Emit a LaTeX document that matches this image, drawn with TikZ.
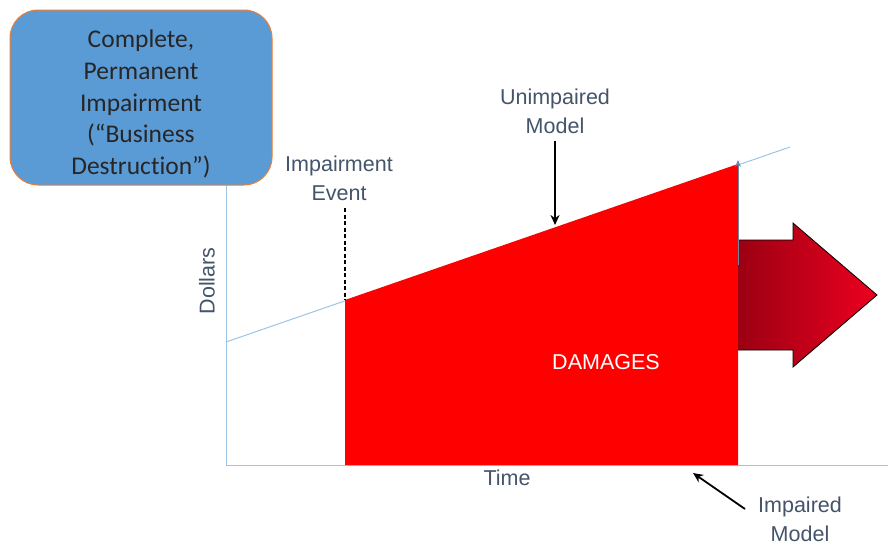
\documentclass[tikz,border=0pt]{standalone}
\usepackage{fontspec}
\setmainfont{Carlito}[Ligatures=NoCommon]
\newfontfamily\lblfont{Liberation Sans}
\usetikzlibrary{arrows.meta}
\definecolor{boxblue}{HTML}{5B9BD5}
\definecolor{boxedge}{HTML}{ED7D31}
\definecolor{axisblue}{HTML}{9DC3E6}
\definecolor{lblgray}{HTML}{44546A}
\definecolor{darkred}{HTML}{9A0012}
\definecolor{brightred}{HTML}{EC0020}
\tikzset{
  lbl/.style={text=lblgray, font=\lblfont\fontsize{21.5}{29}\selectfont, align=center, inner sep=0pt},
  axisline/.style={draw=axisblue, line width=1pt},
  pointer/.style={draw=black, line width=1.8pt, -{Stealth[length=10pt,width=9pt]}},
}
\begin{document}
\begin{tikzpicture}[x=1pt,y=-1pt]
\useasboundingbox (0,0) rectangle (888,546);
% axes
\coordinate (o) at (226,465);
\coordinate (ytop) at (226,185);
\coordinate (xend) at (888,465);
\draw[axisline] (ytop) -- (o) -- (xend);
% unimpaired line
\coordinate (u0) at (226,342);
\coordinate (u1) at (790,147);
\draw[axisline] (u0) -- (u1);
% damages region
\coordinate (d1) at (345,465);
\coordinate (d2) at (345,300);
\coordinate (d3) at (738,164);
\coordinate (d4) at (738,465);
\fill[red] (d1) -- (d2) -- (d3) -- (d4) -- cycle;
% big arrow
\shade[left color=darkred, right color=brightred]
  (736,240) -- (793,240) -- (793,223) -- (877,295) -- (793,367) -- (793,350) -- (736,350) -- cycle;
\draw[black, line width=0.8pt]
  (736,240) -- (793,240) -- (793,223) -- (877,295) -- (793,367) -- (793,350) -- (736,350);
\fill[red] (730,235) rectangle (738,355);
% small blue vertical arrow
\coordinate (va0) at (738,265);
\coordinate (va1) at (738,160);
\draw[draw=axisblue!70!black, line width=1pt, -{Stealth[length=7pt,width=6pt]}] (va0) -- (va1);
% blue box
\node[draw=boxedge, fill=boxblue, line width=1pt, rounded corners=28pt,
      minimum width=262pt, minimum height=175pt, inner sep=0pt] (box) at (141,97.5) {};
\node[align=center, inner sep=0pt, text=black!85,
      font=\fontsize{25.5}{31.8}\selectfont] (boxtext) at (141,104)
  {Complete,\\Permanent\\Impairment\\(“Business\\Destruction”)};
% labels
\node[lbl] (ie) at (339,178) {Impairment\\Event};
\coordinate (ieb) at (345,208);
\draw[black, line width=2.4pt, dash pattern=on 4pt off 2.5pt] (ieb) -- (d2);
\node[lbl] (um) at (555,111) {Unimpaired\\Model};
\coordinate (umt) at (555,141);
\coordinate (umb) at (555,225);
\draw[pointer] (umt) -- (umb);
\node[lbl, rotate=90] (dol) at (207,281) {Dollars};
\node[lbl] (time) at (507,478) {Time};
\node[text=white, font=\lblfont\fontsize{21.5}{26}\selectfont, inner sep=0pt] (dam) at (606,362) {DAMAGES};
\node[lbl] (im) at (800,519) {Impaired\\Model};
\coordinate (imt) at (745,509);
\coordinate (imh) at (693,473);
\draw[pointer] (imt) -- (imh);
\end{tikzpicture}
\end{document}
